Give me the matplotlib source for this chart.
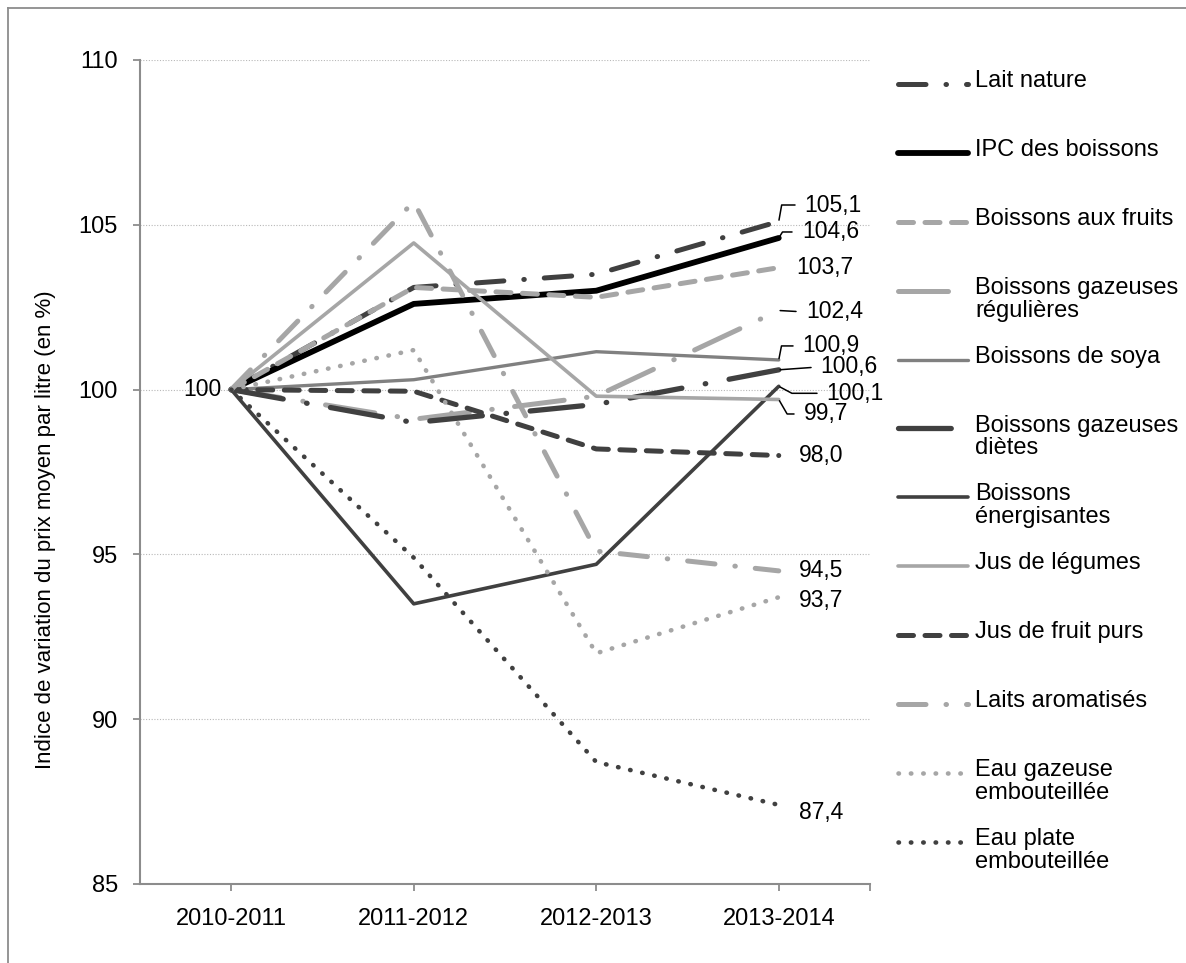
import matplotlib
matplotlib.use("Agg")
from matplotlib import pyplot as plt
from matplotlib.lines import Line2D

plt.rcParams['font.family'] = ['Liberation Sans', 'DejaVu Sans']

periods = ["2010-2011", "2011-2012", "2012-2013", "2013-2014"]

lait_nature = [100, 103.1, 103.5, 105.1]
ipc_boissons = [100, 102.6, 103.0, 104.6]
boissons_fruits = [100, 103.1, 102.8, 103.7]
gazeuses_regulieres = [100, 99.1, 99.8, 102.4]
boissons_soya = [100, 100.3, 101.15, 100.9]
gazeuses_dietes = [100, 99.0, 99.55, 100.6]
energisantes = [100, 93.5, 94.7, 100.1]
jus_legumes = [100, 104.45, 99.8, 99.7]
jus_fruit_purs = [100, 99.95, 98.2, 98.0]
laits_aromatises = [100, 105.7, 95.1, 94.5]
eau_gazeuse = [100, 101.2, 92.0, 93.7]
eau_plate = [100, 94.9, 88.7, 87.4]

labels = ["Lait nature", "IPC des boissons", "Boissons aux fruits",
          "Boissons gazeuses\nrégulières", "Boissons de soya",
          "Boissons gazeuses\ndiètes", "Boissons\nénergisantes",
          "Jus de légumes", "Jus de fruit purs", "Laits aromatisés",
          "Eau gazeuse\nembouteillée", "Eau plate\nembouteillée"]

series = [lait_nature, ipc_boissons, boissons_fruits, gazeuses_regulieres,
          boissons_soya, gazeuses_dietes, energisantes, jus_legumes,
          jus_fruit_purs, laits_aromatises, eau_gazeuse, eau_plate]

dark, mid, light = '#404040', '#808080', '#a6a6a6'
# color, linewidth, dashes (None = solid)
styles = [
    (dark, 3.6, (5.5, 4.0, 0.1, 4.0)),
    ('black', 4.2, None),
    (light, 3.6, (3.0, 2.3)),
    (light, 3.6, (10.0, 4.5, 0.1, 4.5)),
    (mid, 2.4, None),
    (dark, 3.8, (10.0, 4.5, 0.1, 4.5)),
    (dark, 2.6, None),
    (light, 2.6, None),
    (dark, 3.6, (3.0, 2.3)),
    (light, 3.6, (5.5, 4.0, 0.1, 4.0)),
    (light, 3.3, (0.1, 2.6)),
    (dark, 3.3, (0.1, 2.6)),
]

fig = plt.figure(figsize=(11.86, 9.63), dpi=100)
ax = fig.add_axes([140 / 1186, 1 - 884 / 963, 730 / 1186, 824 / 963])

x = list(range(len(periods)))
for vals, (col, lw, dsh) in zip(series, styles):
    line, = ax.plot(x, vals, color=col, lw=lw, solid_capstyle='round',
                    dash_capstyle='round', solid_joinstyle='round')
    if dsh is not None:
        line.set_dashes(dsh)

ax.set_xlim(-0.5, 3.5)
ax.set_ylim(85, 110)
ax.set_yticks([85, 90, 95, 100, 105, 110])
ax.set_xticks(x)
ax.set_xticklabels(periods)
ax.set_xticks([3.5], minor=True)
ax.grid(axis='y', color='#b8b8b8', ls=(0, (1, 1.5)), lw=0.8)
ax.set_axisbelow(True)
for s in ['top', 'right']:
    ax.spines[s].set_visible(False)
for s in ['left', 'bottom']:
    ax.spines[s].set_color('#8c8c8c')
    ax.spines[s].set_linewidth(1.5)
ax.tick_params(axis='both', which='both', direction='out', length=5, width=1.3,
               color='#8c8c8c', labelsize=17)
ax.tick_params(axis='y', pad=11)
ax.tick_params(axis='x', pad=12)
ax.set_ylabel("Indice de variation du prix moyen par litre (en %)", fontsize=16,
              va='center')
ax.yaxis.set_label_coords(-0.130, 0.43)

# data labels (last point), offsets in pixels, optional leader angle
end_labels = [
    (lait_nature, 26, 16.5, 80),
    (ipc_boissons, 23, 6, 58),
    (boissons_fruits, 17, 0, None),
    (gazeuses_regulieres, 27, -1.5, 'straight'),
    (boissons_soya, 24, 14, 79),
    (gazeuses_dietes, 42, 3, 'straight'),
    (energisantes, 48, -7, -28),
    (jus_legumes, 25, -14.5, -60),
    (jus_fruit_purs, 20, 0, None),
    (laits_aromatises, 20, 0, None),
    (eau_gazeuse, 20, -3, None),
    (eau_plate, 20, -8, None),
]
for vals, dx, dy, leader in end_labels:
    txt = f"{vals[-1]:.1f}".replace('.', ',')
    kw = {}
    if leader == 'straight':
        kw['arrowprops'] = dict(arrowstyle='-', color='black', lw=1.1,
                                shrinkA=5, shrinkB=1, relpos=(0, 0.5))
    elif leader is not None:
        kw['arrowprops'] = dict(arrowstyle='-', color='black', lw=1.1,
                                shrinkA=5, shrinkB=1, relpos=(0, 0.5),
                                connectionstyle=f"angle,angleA=0,angleB={leader},rad=0")
    ax.annotate(txt, (3, vals[-1]), xytext=(dx * 0.72, dy * 0.72),
                textcoords='offset points', fontsize=16.5, ha='left', va='center', **kw)

ax.annotate("100", (0, series[0][0]), xytext=(-7, 0), textcoords='offset points',
            fontsize=16.5, ha='right', va='center')

# legend drawn by hand
W, H = 1186, 963
for i, (lab, (col, lw, dsh)) in enumerate(zip(labels, styles)):
    yp = 84 + i * 68.9
    ln = Line2D([898 / W, 968 / W], [1 - yp / H, 1 - yp / H], transform=fig.transFigure,
                color=col, lw=lw, solid_capstyle='round', dash_capstyle='round')
    if dsh is not None:
        ln.set_dashes(dsh)
    fig.add_artist(ln)
    fig.text(975 / W, 1 - (yp - 14) / H, lab, fontsize=17, ha='left', va='top',
             linespacing=1.05)

# outer frame (top and left only, as cropped)
fig.add_artist(Line2D([8 / W, 1], [1 - 8 / H, 1 - 8 / H], transform=fig.transFigure,
                      color='#8c8c8c', lw=1.3))
fig.add_artist(Line2D([8 / W, 8 / W], [0, 1 - 8 / H], transform=fig.transFigure,
                      color='#8c8c8c', lw=1.3))

fig.savefig("out.png", dpi=100)
